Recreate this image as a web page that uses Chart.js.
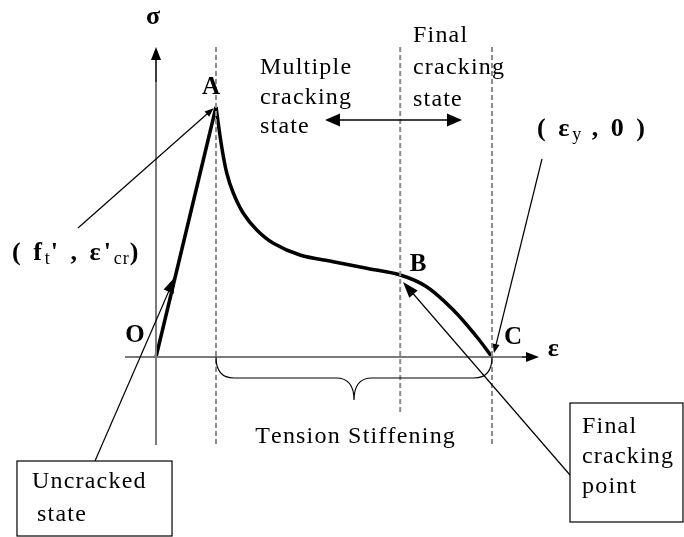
<!DOCTYPE html>
<html>
<head>
<meta charset="utf-8">
<script src="https://cdn.jsdelivr.net/npm/chart.js@4.4.1/dist/chart.umd.min.js"></script>
<style>
  html, body { margin: 0; padding: 0; background: #fff; }
  canvas { display: block; }
</style>
</head>
<body>
<canvas id="tension" width="684" height="537"></canvas>
<script>
// stress-strain of a cracked RC member in tension (normalised: A = (1, 1))
const strainOA = [0, 1];
const stressOA = [0, 1];
const strainAC = [1, 1.095, 1.18, 1.29, 1.455, 1.68, 1.955, 2.4, 2.955, 3.51, 4.07, 4.51, 4.955, 5.345, 5.6];
const stressAC = [1, 0.841, 0.735, 0.655, 0.575, 0.508, 0.455, 0.408, 0.381, 0.355, 0.328, 0.281, 0.188, 0.081, 0];
// strains of A (first cracking), B (final cracking), C (yield)
const crackStrains = [1, 4.07, 5.6];
const pointNames = ['O', 'A', 'B', 'C'];

const pts = (xs, ys) => xs.map((x, i) => ({x: x, y: ys[i]}));

const serif = '"Liberation Serif", "Times New Roman", serif';
const grey = '#7a7a7a';

// layout of the drawing in strain/stress units
const dashTop = 1.24;
const dashBottom = [-0.352, -0.224, -0.352];
const sigmaAxis = [-0.352, 1.24];
const epsAxis = [-0.517, 6.383];

const dashSets = crackStrains.map((e, i) => ({
  data: [{x: e, y: dashTop}, {x: e, y: dashBottom[i]}],
  showLine: true, borderColor: '#8c8c8c', borderWidth: 2, borderDash: [5, 3],
  pointRadius: 0
}));

function arrow(ctx, x1, y1, x2, y2, len, half, lw) {
  const a = Math.atan2(y2 - y1, x2 - x1);
  ctx.lineWidth = lw;
  ctx.beginPath();
  ctx.moveTo(x1, y1);
  ctx.lineTo(x2 - Math.cos(a) * len * 0.6, y2 - Math.sin(a) * len * 0.6);
  ctx.stroke();
  ctx.beginPath();
  ctx.moveTo(x2, y2);
  ctx.lineTo(x2 - Math.cos(a) * len - Math.sin(a) * half, y2 - Math.sin(a) * len + Math.cos(a) * half);
  ctx.lineTo(x2 - Math.cos(a) * len + Math.sin(a) * half, y2 - Math.sin(a) * len - Math.cos(a) * half);
  ctx.closePath();
  ctx.fill();
}

// draw text letter by letter with extra spacing; returns end x
function spaced(ctx, text, x, y, sp) {
  for (const ch of text) {
    ctx.fillText(ch, x, y);
    x += ctx.measureText(ch).width + sp;
  }
  return x;
}
function spacedWidth(ctx, text, sp) {
  let w = 0;
  for (const ch of text) w += ctx.measureText(ch).width + sp;
  return w - sp;
}

// text pieces: [text, sub?]
function rich(ctx, parts, x, y, size, sp) {
  ctx.textBaseline = 'middle';
  ctx.textAlign = 'left';
  parts.forEach(p => {
    if (p[1]) {
      ctx.font = Math.round(size * 0.68) + 'px ' + serif;
      x = spaced(ctx, p[0], x, y + size * 0.26, 1);
    } else {
      ctx.font = 'bold ' + size + 'px ' + serif;
      x = spaced(ctx, p[0], x, y, sp);
    }
  });
}

const notes = {
  id: 'notes',
  afterDatasetsDraw(chart) {
    const ctx = chart.ctx;
    const X = v => chart.scales.x.getPixelForValue(v);
    const Y = v => chart.scales.y.getPixelForValue(v);
    ctx.save();
    ctx.fillStyle = '#000';
    ctx.strokeStyle = '#000';

    // axis arrowheads
    arrow(ctx, X(0), Y(1.1), X(0), Y(sigmaAxis[1]), 13, 5, 0);
    arrow(ctx, X(6.1), Y(0), X(epsAxis[1]), Y(0), 13, 5, 0);

    // point letters
    ctx.textAlign = 'center';
    ctx.textBaseline = 'middle';
    ctx.font = 'bold 25px ' + serif;
    const letterPos = [[-0.35, 0.084], [0.917, 1.076], [4.367, 0.368], [5.95, 0.076]];
    pointNames.forEach((n, i) => ctx.fillText(n, X(letterPos[i][0]), Y(letterPos[i][1])));
    ctx.font = 'bold 26px ' + serif;
    ctx.fillText('σ', X(-0.05), Y(1.36));
    ctx.fillText('ε', X(6.62), Y(0.03));

    // state labels
    ctx.textAlign = 'left';
    ctx.font = '24px ' + serif;
    ['Multiple', 'cracking', 'state'].forEach((t, i) => spaced(ctx, t, X(1.733), Y([1.156, 1.036, 0.92][i]), 1.2));
    ['Final', 'cracking', 'state'].forEach((t, i) => spaced(ctx, t, X(4.283), Y([1.284, 1.156, 1.028][i]), 1.2));
    arrow(ctx, X(4.0), Y(0.948), X(5.1), Y(0.948), 15, 6.5, 1.5);
    arrow(ctx, X(4.0), Y(0.948), X(2.817), Y(0.948), 15, 6.5, 1.5);

    // coordinate labels
    rich(ctx, [['( f'], ['t', 1], ["' , ε'"], ['cr', 1], [')']], X(-2.4), Y(0.416), 26, 3);
    rich(ctx, [['( ε'], ['y', 1], [' , 0 )']], X(6.35), Y(0.912), 26, 3);

    // leader lines
    arrow(ctx, X(-1.3), Y(0.516), X(0.96), Y(0.995), 9, 3.5, 1.2);
    arrow(ctx, X(6.433), Y(0.792), X(5.633), Y(0.016), 9, 3.5, 1.2);
    arrow(ctx, X(-1.017), Y(-0.416), X(0.317), Y(0.32), 16, 5.5, 1.2);
    arrow(ctx, X(6.9), Y(-0.472), X(4.117), Y(0.3), 16, 5.5, 1.2);

    // boxes
    ctx.lineWidth = 1.2;
    ctx.strokeRect(X(-2.317), Y(-0.416), X(0.267) - X(-2.317), Y(-0.716) - Y(-0.416));
    ctx.strokeRect(X(6.9), Y(-0.184), X(8.783) - X(6.9), Y(-0.66) - Y(-0.184));
    ctx.font = '24px ' + serif;
    ctx.textAlign = 'left';
    spaced(ctx, 'Uncracked', X(-2.067), Y(-0.5), 1.2);
    spaced(ctx, 'state', X(-1.983), Y(-0.632), 1.2);
    ['Final', 'cracking', 'point'].forEach((t, i) => spaced(ctx, t, X(7.1), Y([-0.28, -0.4, -0.52][i]), 1.2));

    // brace under tension stiffening zone
    const b0 = crackStrains[0], b1 = crackStrains[2], bm = 3.3;
    ctx.lineWidth = 1.2;
    ctx.beginPath();
    ctx.moveTo(X(b0), Y(0));
    ctx.quadraticCurveTo(X(b0), Y(-0.084), X(b0 + 0.3), Y(-0.084));
    ctx.lineTo(X(bm - 0.3), Y(-0.084));
    ctx.quadraticCurveTo(X(bm), Y(-0.084), X(bm), Y(-0.172));
    ctx.quadraticCurveTo(X(bm), Y(-0.084), X(bm + 0.3), Y(-0.084));
    ctx.lineTo(X(b1 - 0.3), Y(-0.084));
    ctx.quadraticCurveTo(X(b1), Y(-0.084), X(b1), Y(0));
    ctx.stroke();
    const ts = 'Tension Stiffening';
    spaced(ctx, ts, X(3.317) - spacedWidth(ctx, ts, 1.2) / 2, Y(-0.32), 1.2);
    ctx.restore();
  }
};

new Chart(document.getElementById('tension'), {
  type: 'scatter',
  data: {
    datasets: [
      ...dashSets,
      {data: [{x: 0, y: sigmaAxis[0]}, {x: 0, y: sigmaAxis[1] - 0.03}], showLine: true,
       borderColor: grey, borderWidth: 2, pointRadius: 0},
      {data: [{x: epsAxis[0], y: 0}, {x: epsAxis[1] - 0.1, y: 0}], showLine: true,
       borderColor: grey, borderWidth: 2, pointRadius: 0},
      {data: pts(strainOA, stressOA), showLine: true, borderColor: '#000', borderWidth: 3.5,
       pointRadius: 0, tension: 0},
      {data: pts(strainAC, stressAC), showLine: true, borderColor: '#000', borderWidth: 3.5,
       pointRadius: 0, tension: 0.35}
    ]
  },
  options: {
    responsive: false,
    animation: false,
    events: [],
    layout: {padding: 0},
    scales: {
      x: {type: 'linear', min: -2.6, max: 8.8, display: false},
      y: {type: 'linear', min: -0.72, max: 1.428, display: false}
    },
    plugins: {legend: {display: false}, tooltip: {enabled: false}}
  },
  plugins: [notes]
});
</script>
</body>
</html>
